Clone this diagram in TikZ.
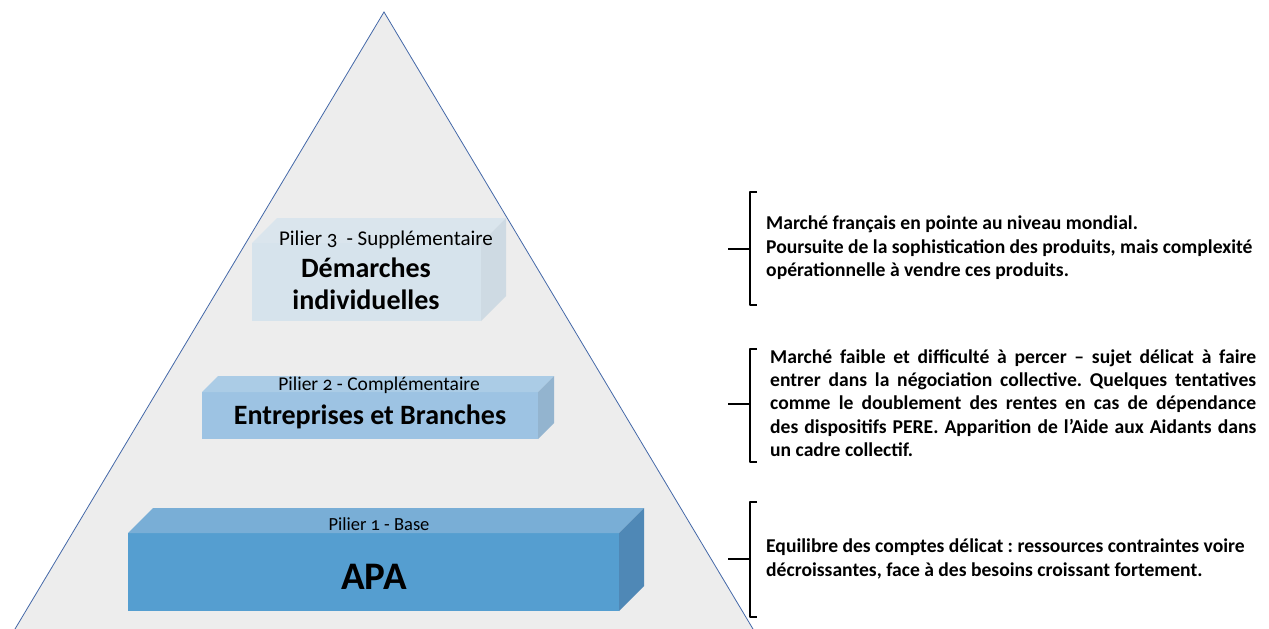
\documentclass[tikz,border=0pt]{standalone}
\usepackage{fontspec}
\setmainfont{Carlito}
\newfontfamily\oldnum[Numbers=OldStyle]{Carlito}
\usetikzlibrary{positioning}
\definecolor{pyrfill}{HTML}{EDEDED}
\definecolor{pyredge}{HTML}{4468A8}
\definecolor{baseF}{HTML}{559ED0}
\definecolor{baseT}{HTML}{79AED6}
\definecolor{baseS}{HTML}{4F88B6}
\definecolor{compF}{HTML}{9DC3E3}
\definecolor{compT}{HTML}{ABCCE6}
\definecolor{compS}{HTML}{93B4CF}
\definecolor{suppF}{HTML}{D6E3EC}
\definecolor{suppT}{HTML}{DAE5ED}
\definecolor{suppS}{HTML}{CEDAE3}
% pillar: x1 y1 x2 y2 depth front top side
\newcommand{\pillar}[8]{
  \fill[#6] (#1,#2) rectangle (#3,#4);
  \fill[#7] (#1,#2) -- ({#1+#5},{#2-#5}) -- ({#3+#5},{#2-#5}) -- (#3,#2) -- cycle;
  \fill[#8] (#3,#2) -- ({#3+#5},{#2-#5}) -- ({#3+#5},{#4-#5}) -- (#3,#4) -- cycle;}
% bracket: top y, middle y, bottom y
\newcommand{\bracket}[3]{
  \draw[line width=2.6pt, line join=round] (757,#1) -- (750,#1) -- (750,#3) -- (757,#3);
  \draw[line width=2.6pt] (728,#2) -- (750,#2);}
\tikzset{
  pilier/.style={font=\fontsize{18.5}{20}\selectfont, inner sep=0pt},
  titre/.style={font=\bfseries\fontsize{28}{32}\selectfont, inner sep=0pt, align=center},
  texte/.style={font=\bfseries\fontsize{19.6}{23.4}\selectfont, inner sep=0pt, anchor=west}
}
\begin{document}
\frenchspacing
\begin{tikzpicture}[x=1pt, y=-1pt]
  \useasboundingbox (0,0) rectangle (1269,629);
  % pyramid
  \fill[pyrfill] (384,12) -- (15,629) -- (753,629) -- cycle;
  \draw[pyredge, line width=0.8pt] (15,629) -- (384,12) -- (753,629);
  % pillars
  \pillar{128}{533}{619}{611}{25}{baseF}{baseT}{baseS}
  \pillar{202}{392}{538}{439}{16}{compF}{compT}{compS}
  \pillar{252}{243}{481}{321}{25}{suppF}{suppT}{suppS}
  % labels
  \node[pilier] (p1) at (379,524) {Pilier {\oldnum 1} - Base};
  \node[titre, font=\bfseries\fontsize{39}{40}\selectfont] (apa) at (374,577) {APA};
  \node[pilier, font=\fontsize{19.5}{20}\selectfont] (p2) at (379,385) {Pilier {\oldnum 2} - Complémentaire};
  \node[pilier, font=\fontsize{21}{20}\selectfont] (p3) at (386,240) {Pilier {\oldnum 3}\hspace{9pt}- Supplémentaire};
  \node[titre] (entr) at (370,417) {Entreprises et Branches};
  \node[titre] (dem) at (366,284) {Démarches\\individuelles};
  % brackets
  \bracket{192}{249}{305}
  \bracket{349}{404}{462}
  \bracket{502}{559}{617}
  % texts
  \node[texte, align=left] (t3) at (766,248) {Marché français en pointe au niveau mondial.\\
    Poursuite de la sophistication des produits, mais complexité\\
    opérationnelle à vendre ces produits.};
  \node[texte, text width=486pt, align=justify] (t2) at (770,403) {Marché faible et difficulté à percer – sujet délicat à faire\linebreak
    entrer dans la négociation collective. Quelques tentatives\linebreak
    comme le doublement des rentes en cas de dépendance\linebreak
    des dispositifs PERE. Apparition de l’Aide aux Aidants dans\linebreak
    un cadre collectif.};
  \node[texte, align=left] (t1) at (766,559) {Equilibre des comptes délicat : ressources contraintes voire\\
    décroissantes, face à des besoins croissant fortement.};
\end{tikzpicture}
\end{document}
